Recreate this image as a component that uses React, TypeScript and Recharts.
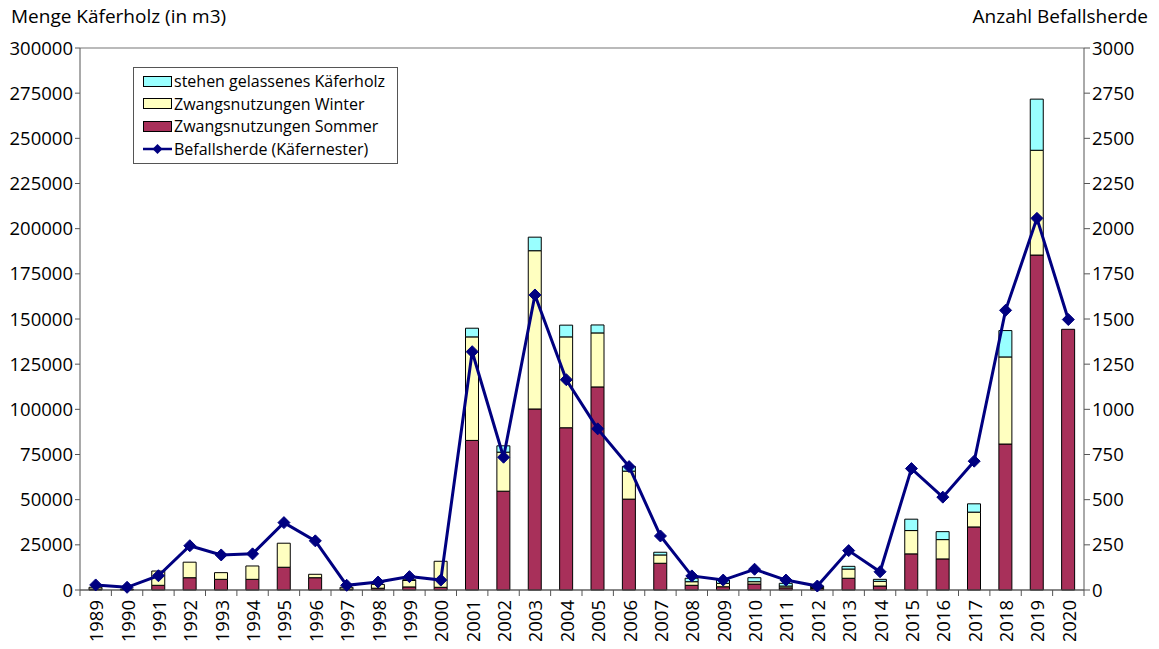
import React from "react";
import {
    ComposedChart,
    Bar,
    Line,
    XAxis,
    YAxis,
    CartesianGrid,
    Legend,
} from "recharts";

// Jahre
const years = [
    "1989", "1990", "1991", "1992", "1993", "1994", "1995", "1996",
    "1997", "1998", "1999", "2000", "2001", "2002", "2003", "2004",
    "2005", "2006", "2007", "2008", "2009", "2010", "2011", "2012",
    "2013", "2014", "2015", "2016", "2017", "2018", "2019", "2020",
];

// Zwangsnutzungen Sommer (m3)
const sommer = [
    500, 300, 2600, 6800, 5900, 5900, 12600, 6800,
    500, 1000, 1700, 1500, 82800, 54700, 100200, 89800,
    112400, 50300, 14800, 2600, 1800, 3300, 1200, 800,
    6500, 2200, 20000, 17200, 34900, 80800, 185400, 144300,
];

// Zwangsnutzungen Winter (m3)
const winter = [
    1000, 200, 7900, 8600, 3700, 7400, 13300, 1900,
    1000, 2100, 3600, 14400, 57300, 21600, 87600, 50300,
    29900, 15500, 4600, 2000, 1900, 1300, 1000, 600,
    5100, 2600, 12900, 10700, 8200, 48200, 58000, 0,
];

// stehen gelassenes Käferholz (m3)
const stehen = [
    0, 0, 0, 0, 0, 0, 0, 0,
    0, 0, 400, 0, 4800, 3500, 7500, 6500,
    4400, 2600, 1500, 1900, 1800, 2200, 1500, 800,
    1500, 1100, 6300, 4400, 4600, 14600, 28300, 0,
];

// Befallsherde (Anzahl)
const herde = [
    28, 15, 79, 245, 194, 200, 373, 272,
    26, 44, 74, 55, 1319, 735, 1633, 1164,
    892, 683, 299, 78, 55, 115, 55, 22,
    218, 101, 672, 514, 713, 1548, 2057, 1497,
];

const leftTicks = [0, 25000, 50000, 75000, 100000, 125000, 150000, 175000, 200000, 225000, 250000, 275000, 300000];
const rightTicks = [0, 250, 500, 750, 1000, 1250, 1500, 1750, 2000, 2250, 2500, 2750, 3000];

const data = years.map((y, i) => ({
    year: y,
    sommer: sommer[i],
    winter: winter[i],
    stehen: stehen[i],
    herde: herde[i],
}));

const FONT = "'Open Sans', 'Noto Sans', sans-serif";
const C_STEHEN = "#99FFFF";
const C_WINTER = "#FFFFC0";
const C_SOMMER = "#A8305A";
const C_LINE = "#000080";

const Diamond = (props: any) => {
    const { cx, cy } = props;
    if (cx == null || cy == null) return null;
    const r = 6;
    return (
        <polygon
            points={`${cx},${cy - r} ${cx + r},${cy} ${cx},${cy + r} ${cx - r},${cy}`}
            fill={C_LINE}
            stroke={C_LINE}
        />
    );
};

const YearTick = (props: any) => {
    const { x, y, payload, index } = props;
    const half = 1004 / years.length / 2;
    return (
        <g>
            {index === 0 && <line x1={x - half} y1={y - 8} x2={x - half} y2={y - 2} stroke="#555" />}
            <line x1={x + half} y1={y - 8} x2={x + half} y2={y - 2} stroke="#555" />
            <text
                x={x}
                y={y + 2}
                transform={`rotate(-90 ${x} ${y + 2})`}
                textAnchor="end"
                dominantBaseline="central"
                fontSize={18.5}
                fontFamily={FONT}
                fill="#000"
            >
                {payload.value}
            </text>
        </g>
    );
};

const LegendBox = () => {
    const row: React.CSSProperties = {
        display: "flex",
        alignItems: "center",
        height: 22.5,
        fontSize: 16,
        fontFamily: FONT,
        color: "#000",
        whiteSpace: "nowrap",
    };
    const swatch = (c: string): React.CSSProperties => ({
        width: 27,
        height: 9,
        background: c,
        border: "1px solid #000",
        marginRight: 2,
    });
    return (
        <div
            style={{
                border: "1px solid #555",
                background: "#fff",
                padding: "2px 6px 3px 9px",
                width: 248,
            }}
        >
            <div style={row}>
                <div style={swatch(C_STEHEN)} />
                stehen gelassenes Käferholz
            </div>
            <div style={row}>
                <div style={swatch(C_WINTER)} />
                Zwangsnutzungen Winter
            </div>
            <div style={row}>
                <div style={swatch(C_SOMMER)} />
                Zwangsnutzungen Sommer
            </div>
            <div style={row}>
                <svg width={29} height={12} style={{ marginRight: 2 }}>
                    <line x1={0} y1={6} x2={29} y2={6} stroke={C_LINE} strokeWidth={2.5} />
                    <polygon points="14.5,1 19.5,6 14.5,11 9.5,6" fill={C_LINE} />
                </svg>
                Befallsherde (Käfernester)
            </div>
        </div>
    );
};

const App: React.FC = () => {
    return (
        <div style={{ position: "relative", width: 1159, height: 649, margin: -8, background: "#fff" }}>
            <div style={{ position: "absolute", left: 11, top: 3, fontSize: 19, fontFamily: FONT }}>
                Menge Käferholz (in m3)
            </div>
            <div style={{ position: "absolute", right: 11, top: 3, fontSize: 19, fontFamily: FONT }}>
                Anzahl Befallsherde
            </div>
            <ComposedChart
                width={1159}
                height={649}
                data={data}
                margin={{ top: 48, right: 0, bottom: 0, left: 0 }}
                barSize={13}
            >
                <CartesianGrid vertical={false} stroke="#777" strokeWidth={1.2} />
                <XAxis
                    dataKey="year"
                    interval={0}
                    height={59}
                    stroke="#555"
                    tickLine={false}
                    tick={<YearTick />}
                />
                <YAxis
                    yAxisId="left"
                    domain={[0, 300000]}
                    ticks={leftTicks}
                    interval={0}
                    width={80}
                    stroke="#555"
                    tickSize={5}
                    tick={{ fill: "#000", fontSize: 18.5, fontFamily: FONT }}
                />
                <YAxis
                    yAxisId="right"
                    orientation="right"
                    domain={[0, 3000]}
                    ticks={rightTicks}
                    interval={0}
                    width={75}
                    stroke="#555"
                    tickSize={6}
                    tick={{ fill: "#000", fontSize: 18.5, fontFamily: FONT }}
                />
                <Legend
                    layout="vertical"
                    verticalAlign="middle"
                    align="center"
                    content={<LegendBox />}
                    wrapperStyle={{ position: "absolute", left: 133, top: 67, width: 266 }}
                />
                <Bar yAxisId="left" dataKey="sommer" stackId="a" fill={C_SOMMER} stroke="#000" strokeWidth={1} isAnimationActive={false} />
                <Bar yAxisId="left" dataKey="winter" stackId="a" fill={C_WINTER} stroke="#000" strokeWidth={1} isAnimationActive={false} />
                <Bar yAxisId="left" dataKey="stehen" stackId="a" fill={C_STEHEN} stroke="#000" strokeWidth={1} isAnimationActive={false} />
                <Line
                    yAxisId="right"
                    type="linear"
                    dataKey="herde"
                    stroke={C_LINE}
                    strokeWidth={3}
                    dot={<Diamond />}
                    activeDot={false}
                    isAnimationActive={false}
                />
            </ComposedChart>
        </div>
    );
};

export default App;
